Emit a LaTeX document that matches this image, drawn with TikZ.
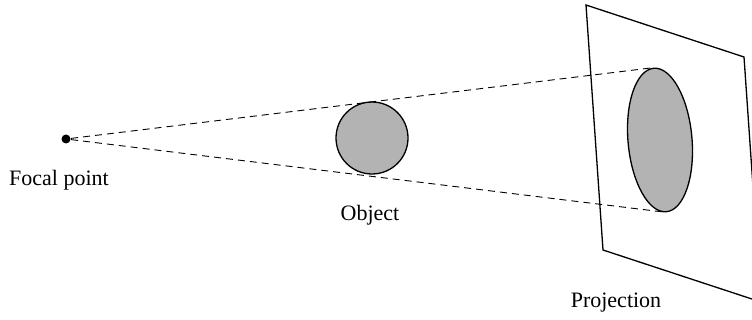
\documentclass[tikz,border=0pt]{standalone}
\usepackage{fontspec}
\setmainfont{Liberation Serif}
\usetikzlibrary{shapes.geometric}
\definecolor{shade}{HTML}{B3B3B3}
\tikzset{ray/.style={dashed,dash pattern=on 7pt off 5pt,line width=.9pt},lbl/.style={font=\fontsize{22}{26}\selectfont}}
\begin{document}
\begin{tikzpicture}[x=1pt,y=-1pt,line width=1.3pt]
\clip (0,0) rectangle (752,320);
\draw (586,5)--(744,57)--(761,302)--(603,250)--cycle;
\node[draw,ellipse,fill=shade,minimum width=64pt,minimum height=144pt,inner sep=0pt,rotate=5] (proj) at (660,140){};
\node[draw,circle,fill=shade,minimum size=72pt,inner sep=0pt] (obj) at (372,138){};
\node[circle,fill=black,minimum size=9pt,inner sep=0pt] (focal) at (66,139){};
\draw[ray] (focal)--(proj.north);\draw[ray] (focal)--(proj.south);
\node[lbl] (focallbl) at (59,180){Focal point};
\node[lbl] (objlbl) at (370,215){Object};
\node[lbl] (projlbl) at (616,303){Projection};
\end{tikzpicture}
\end{document}
